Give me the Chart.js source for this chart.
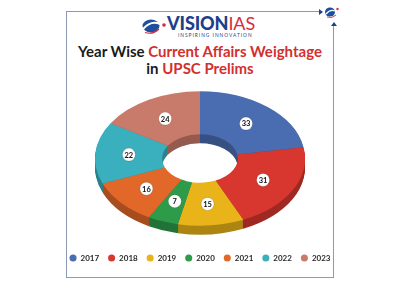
<!DOCTYPE html>
<html>
<head>
<meta charset="utf-8">
<script src="https://cdn.jsdelivr.net/npm/chart.js@4.4.1/dist/chart.umd.min.js"></script>
<style>
  html, body { margin: 0; padding: 0; background: #fff; }
  #wrap { position: relative; width: 400px; height: 288px; overflow: hidden; font-family: Lato, "Noto Sans", sans-serif; }
  #frame { position: absolute; left: 66px; top: 11px; width: 267px; height: 266px; border-left: 1px solid #8e9ab0; border-bottom: 1px solid #8e9ab0; }
  #frame-top { position: absolute; left: 66px; top: 11px; width: 254px; height: 1px; background: #8e9ab0; }
  #frame-right { position: absolute; left: 333px; top: 25px; width: 1px; height: 253px; background: #8e9ab0; }
  .arrow-r { position: absolute; left: 319px; top: 9px; width: 0; height: 0; border-top: 3px solid transparent; border-bottom: 3px solid transparent; border-left: 4px solid #1d3f8c; }
  .arrow-u { position: absolute; left: 331px; top: 22px; width: 0; height: 0; border-left: 3px solid transparent; border-right: 3px solid transparent; border-bottom: 4px solid #1d3f8c; }
  #logo { position: absolute; left: 142px; top: 15px; width: 120px; height: 24px; }
  #brand { position: absolute; left: 25px; top: -1px; font-size: 18px; font-weight: 900; letter-spacing: -0.1px; color: #1d3f8c; line-height: 18px; }
  #brand span { color: #d62c3a; font-weight: 400; }
  #tag { position: absolute; left: 36px; top: 17px; font-size: 4.8px; letter-spacing: 1px; color: #1d3f8c; white-space: nowrap; }
  #title { position: absolute; left: 0; top: 43px; width: 400px; text-align: center; font-size: 15px; font-weight: 700; line-height: 17px; color: #1b1b1b; }
  #title .hl { color: #d32f2f; }
  #chartbox { position: absolute; left: 0; top: 0; width: 400px; height: 288px; }
</style>
</head>
<body>
<div id="wrap">
  <div id="frame"></div>
  <div id="frame-top"></div>
  <div id="frame-right"></div>
  <div class="arrow-r"></div>
  <div class="arrow-u"></div>
  <svg style="position:absolute;left:324px;top:5px" width="16" height="14" viewBox="0 0 16 14">
    <ellipse cx="6" cy="7" rx="5" ry="4.6" fill="#1d4fa0"/>
    <path d="M2 9 Q6 4 11 6" stroke="#fff" stroke-width="1.3" fill="none"/>
    <path d="M3 12 Q8 14 12 10" stroke="#d62c3a" stroke-width="0.9" fill="none"/>
    <circle cx="13.5" cy="4" r="1.2" fill="#d62c3a"/>
  </svg>
  <div id="logo">
    <svg style="position:absolute;left:0;top:3px" width="26" height="16" viewBox="0 0 26 16">
      <ellipse cx="9" cy="8" rx="8.5" ry="6.5" fill="#1d4fa0"/>
      <path d="M1 11 Q9 2 18 6" stroke="#fff" stroke-width="2" fill="none"/>
      <path d="M3 14.5 Q11 17 17 11" stroke="#d62c3a" stroke-width="1.2" fill="none"/>
      <circle cx="22" cy="7" r="1.8" fill="#d62c3a"/>
    </svg>
    <div id="brand">VISION<span>IAS</span></div>
    <div id="tag">INSPIRING INNOVATION</div>
  </div>
  <div id="title">Year Wise <span class="hl">Current Affairs Weightage</span><br>in <span class="hl">UPSC Prelims</span></div>
  <div id="chartbox"><canvas id="chart"></canvas></div>
</div>
<script>
const years = ['2017', '2018', '2019', '2020', '2021', '2022', '2023'];
const weightage = [33, 31, 15, 7, 16, 22, 24];
const sliceColors = ['#4a6db1', '#d8372f', '#e8b419', '#2e9b4b', '#e2682a', '#3aafbd', '#c97b6b'];

// darken a hex colour for the side walls
function shade(hex, f) {
  const n = parseInt(hex.slice(1), 16);
  const r = Math.round(((n >> 16) & 255) * f);
  const g = Math.round(((n >> 8) & 255) * f);
  const b = Math.round((n & 255) * f);
  return 'rgb(' + r + ',' + g + ',' + b + ')';
}

// squash the doughnut into an ellipse and give it some depth
const tiltPlugin = {
  id: 'tilt',
  beforeDatasetsDraw(chart, args, opts) {
    const ctx = chart.ctx;
    const arcs = chart.getDatasetMeta(0).data;
    const {x, y, outerRadius} = arcs[0];
    const sx = opts.radiusX / outerRadius;
    const sy = sx * opts.tilt;
    chart.$tilt = {x, y, sx, sy};
    const colors = chart.data.datasets[0].backgroundColor;
    for (let d = opts.depth; d > 0; d--) {
      ctx.save();
      ctx.translate(x, y + d);
      ctx.scale(sx, sy);
      ctx.translate(-x, -y);
      arcs.forEach((arc, i) => {
        ctx.beginPath();
        ctx.arc(x, y, arc.outerRadius, arc.startAngle, arc.endAngle);
        ctx.arc(x, y, arc.innerRadius, arc.endAngle, arc.startAngle, true);
        ctx.closePath();
        ctx.fillStyle = shade(colors[i], 0.74);
        ctx.fill();
      });
      ctx.restore();
    }
    ctx.save();
    ctx.translate(x, y);
    ctx.scale(sx, sy);
    ctx.translate(-x, -y);
  },
  afterDatasetsDraw(chart) {
    const ctx = chart.ctx;
    ctx.restore();
    const {x, y, sx, sy} = chart.$tilt;
    const arcs = chart.getDatasetMeta(0).data;
    const values = chart.data.datasets[0].data;
    ctx.save();
    arcs.forEach((arc, i) => {
      const a = (arc.startAngle + arc.endAngle) / 2;
      const r = (arc.innerRadius + arc.outerRadius) / 2;
      const px = x + r * Math.cos(a) * sx;
      const py = y + r * Math.sin(a) * sy;
      ctx.beginPath();
      ctx.arc(px, py, 6.5, 0, Math.PI * 2);
      ctx.fillStyle = '#fff';
      ctx.fill();
      ctx.lineWidth = 0.6;
      ctx.strokeStyle = 'rgba(0,0,0,0.25)';
      ctx.stroke();
      ctx.fillStyle = '#111';
      ctx.font = 'bold 7.5px Lato, sans-serif';
      ctx.textAlign = 'center';
      ctx.textBaseline = 'middle';
      ctx.fillText(String(values[i]), px, py + 0.5);
    });
    ctx.restore();
  }
};

new Chart(document.getElementById('chart'), {
  type: 'doughnut',
  data: {
    labels: years,
    datasets: [{
      data: weightage,
      backgroundColor: sliceColors,
      borderWidth: 0,
      clip: false
    }]
  },
  options: {
    responsive: true,
    maintainAspectRatio: false,
    animation: false,
    cutout: '36%',
    layout: { padding: { top: 72, bottom: 16, left: 0, right: 0 } },
    plugins: {
      tooltip: { enabled: false },
      tilt: { radiusX: 105, tilt: 0.64, depth: 9 },
      legend: {
        position: 'bottom',
        labels: {
          usePointStyle: true,
          pointStyle: 'circle',
          boxWidth: 7,
          boxHeight: 5,
          padding: 9,
          color: '#2a2a2a',
          font: { family: 'Lato, sans-serif', size: 8, weight: 'bold' }
        }
      }
    }
  },
  plugins: [tiltPlugin]
});
</script>
</body>
</html>
